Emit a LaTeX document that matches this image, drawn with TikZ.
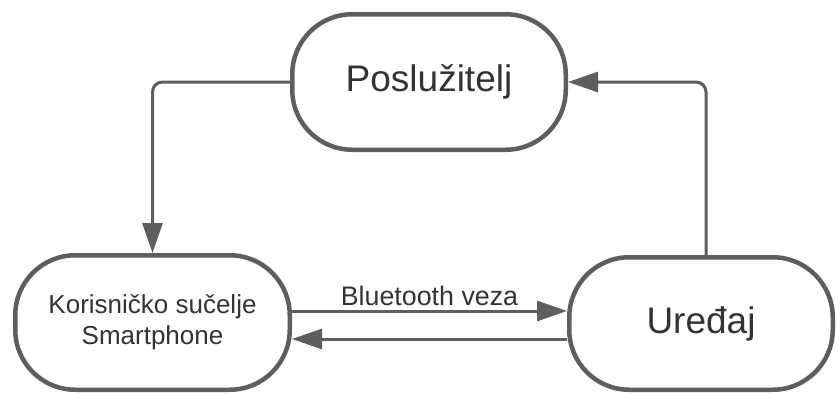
\documentclass[tikz,border=0pt]{standalone}
\usepackage{fontspec}
\setmainfont{Liberation Sans}
\usetikzlibrary{arrows.meta}
\definecolor{edge}{HTML}{5E5E5E}
\definecolor{txt}{HTML}{333333}
\begin{document}
\begin{tikzpicture}[x=1pt,y=-1pt,
  box/.style={draw=edge, line width=4.5pt, rounded corners=60pt, fill=white,
    text=txt, align=center, inner sep=0pt},
  conn/.style={draw=edge, line width=3pt, rounded corners=10pt,
    -{Triangle[length=30pt,width=20pt]}},
  bigtext/.style={font=\fontsize{37}{44}\selectfont},
  smalltext/.style={font=\fontsize{26}{31}\selectfont},
  labeltext/.style={font=\fontsize{26.8}{31}\selectfont}]
\useasboundingbox (0,0) rectangle (836,394);
\node[box, bigtext, minimum width=273.5pt, minimum height=135.5pt] (P) at (429,82) {Poslužitelj};
\node[box, smalltext, minimum width=274.5pt, minimum height=134.5pt] (L) at (152.5,322.5) {Korisničko sučelje\\Smartphone};
\node[box, bigtext, minimum width=263.5pt, minimum height=132.5pt] (R) at (701,323.5) {Uređaj};
\draw[conn] (P.west) -| (L.north);
\draw[conn] ([xshift=5pt]R.north) |- (P.east);
\draw[conn] ([yshift=11.5pt]L.east) -- ([yshift=11.5pt]L.east -| R.west)
  node[midway, anchor=base, yshift=6pt, text=txt, labeltext] (bt) {Bluetooth veza};
\draw[conn] ([yshift=-16.5pt]L.east -| R.west) -- ([yshift=-16.5pt]L.east);
\end{tikzpicture}
\end{document}
